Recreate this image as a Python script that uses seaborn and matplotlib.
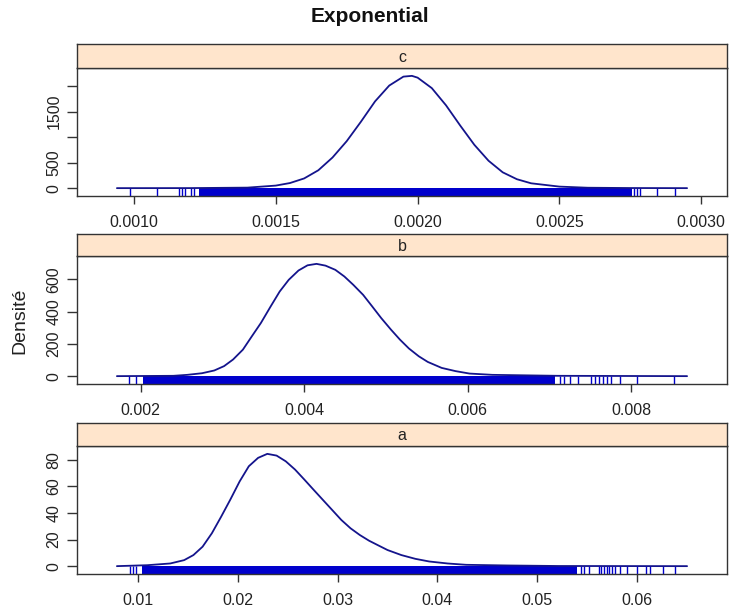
import numpy as np
import pandas as pd
import matplotlib
matplotlib.use("Agg")
import matplotlib.pyplot as plt
import seaborn as sns

sns.set_theme(style="ticks")
plt.rcParams['font.family'] = ['Liberation Sans', 'DejaVu Sans']

# density curves (x value, density)
c_x = [0.00094, 0.00120, 0.00140, 0.00150, 0.00155, 0.00160, 0.00165, 0.00170,
       0.00175, 0.00180, 0.00185, 0.00190, 0.00195, 0.00198, 0.00200, 0.00205,
       0.00210, 0.00215, 0.00220, 0.00225, 0.00230, 0.00235, 0.00240, 0.00250,
       0.00260, 0.00275, 0.00295]
c_y = [0, 1, 10, 50, 100, 190, 350, 600, 920, 1300, 1700, 2010, 2185, 2200, 2165,
       1960, 1624, 1228, 849, 537, 310, 175, 95, 30, 8, 2, 0]

b_x = [0.00171, 0.00240, 0.00257, 0.00275, 0.00290, 0.00302, 0.00313, 0.00325,
       0.00336, 0.00347, 0.00359, 0.00370, 0.00381, 0.00393, 0.00404, 0.00415,
       0.00426, 0.00438, 0.00449, 0.00460, 0.00472, 0.00483, 0.00494, 0.00506,
       0.00517, 0.00528, 0.00540, 0.00551, 0.00568, 0.00585, 0.00602, 0.00630,
       0.00710, 0.00868]
b_y = [0, 2, 8, 18, 35, 62, 103, 164, 247, 329, 432, 524, 596, 654, 686, 695,
       684, 658, 617, 565, 503, 432, 360, 288, 226, 171, 123, 88, 51, 31, 16, 8,
       2, 0]

a_x = [0.00790, 0.01093, 0.01324, 0.01463, 0.01556, 0.01648, 0.01741, 0.01833,
       0.01926, 0.02019, 0.02111, 0.02204, 0.02296, 0.02389, 0.02481, 0.02574,
       0.02667, 0.02759, 0.02852, 0.02944, 0.03037, 0.03130, 0.03222, 0.03315,
       0.03407, 0.03500, 0.03639, 0.03778, 0.03917, 0.04102, 0.04287, 0.04704,
       0.05213, 0.06500]
a_y = [0, 0.7, 2, 4.5, 8.3, 14.6, 24.7, 37, 50, 63.6, 75, 81.3, 84.3, 83, 78.7,
       72.5, 65, 57.4, 49.8, 42.3, 34.7, 28.4, 23.4, 19.1, 15.6, 12.1, 8.3, 5.5,
       3.5, 2, 1, 0.5, 0.1, 0]

# rug: solid band where the sample is dense, single ticks in the tails
c_dense = (0.00123, 0.002755)
c_ticks = [0.000986, 0.00108, 0.00116, 0.00117, 0.00118, 0.00120, 0.00121,
           0.002764, 0.002775, 0.002784, 0.002843, 0.002908]
b_dense = (0.00203, 0.00707)
b_ticks = [0.001858, 0.001943, 0.007123, 0.007180, 0.007253, 0.007350, 0.007502,
           0.007559, 0.007604, 0.007650, 0.007706, 0.007752, 0.007865, 0.008069,
           0.008516]
a_dense = (0.0104, 0.05397)
a_ticks = [0.00917, 0.0095, 0.00983, 0.05441, 0.05471, 0.05514, 0.05620, 0.05640,
           0.05670, 0.05697, 0.05723, 0.05750, 0.05780, 0.05830, 0.05895, 0.06000,
           0.06093, 0.06133, 0.06258, 0.06377]

c_xticks = [0.0010, 0.0015, 0.0020, 0.0025, 0.0030]
c_xlabels = ["0.0010", "0.0015", "0.0020", "0.0025", "0.0030"]
c_yticks = [0, 500, 1000, 1500, 2000]
c_ylabels = ["0", "500", "", "1500", ""]
b_xticks = [0.002, 0.004, 0.006, 0.008]
b_xlabels = ["0.002", "0.004", "0.006", "0.008"]
b_yticks = [0, 200, 400, 600]
b_ylabels = ["0", "200", "400", "600"]
a_xticks = [0.01, 0.02, 0.03, 0.04, 0.05, 0.06]
a_xlabels = ["0.01", "0.02", "0.03", "0.04", "0.05", "0.06"]
a_yticks = [0, 20, 40, 60, 80]
a_ylabels = ["0", "20", "40", "60", "80"]

panels = [
    ("c", c_x, c_y, c_dense, c_ticks, c_xticks, c_xlabels, c_yticks, c_ylabels, (196, 68, 44)),
    ("b", b_x, b_y, b_dense, b_ticks, b_xticks, b_xlabels, b_yticks, b_ylabels, (384, 256, 234)),
    ("a", a_x, a_y, a_dense, a_ticks, a_xticks, a_xlabels, a_yticks, a_ylabels, (574, 446, 423)),
]

W, H = 729, 615
fig = plt.figure(figsize=(W / 100, H / 100), dpi=100)
left, right = 77, 727
frame_col = "#333333"
curve_col = "#14148C"
rug_col = "#0000CC"
strip_col = "#FFE5CC"

for name, xs, ys, dense, ticks, xt, xl, yt, yl, (bot, top, stop) in panels:
    ax = fig.add_axes([left / W, 1 - bot / H, (right - left) / W, (bot - top) / H])
    ax.axvspan(dense[0], dense[1], ymin=0, ymax=0.063, color=rug_col, lw=0)
    sns.rugplot(x=ticks, ax=ax, height=0.063, color=rug_col, lw=1.1)
    df = pd.DataFrame({"x": xs, "density": ys})
    sns.lineplot(data=df, x="x", y="density", ax=ax, color=curve_col,
                 linewidth=1.3, sort=False, estimator=None)

    # lattice-style 7% padding around the data range
    xr = max(xs) - min(xs)
    yr = max(ys) - min(ys)
    ax.set_xlim(min(xs) - 0.07 * xr, max(xs) + 0.07 * xr)
    ax.set_ylim(min(ys) - 0.07 * yr, max(ys) + 0.07 * yr)
    ax.set_xticks(xt)
    ax.set_xticklabels(xl)
    ax.set_yticks(yt)
    ax.set_yticklabels(yl)
    ax.set_xlabel("")
    ax.set_ylabel("")
    ax.tick_params(axis="x", direction="out", length=6, width=1, color=frame_col,
                   labelsize=11.5, pad=8, labelcolor="#222222")
    ax.tick_params(axis="y", direction="out", length=7, width=1, color=frame_col,
                   labelsize=11.5, pad=4, labelrotation=90, labelcolor="#222222")
    for lab in ax.get_yticklabels():
        lab.set_va("center")
    for sp in ax.spines.values():
        sp.set_visible(True)
        sp.set_color(frame_col)
        sp.set_linewidth(1)

    sax = fig.add_axes([left / W, 1 - top / H, (right - left) / W, (top - stop) / H])
    sax.set_facecolor(strip_col)
    sax.set_xticks([])
    sax.set_yticks([])
    for sp in sax.spines.values():
        sp.set_color(frame_col)
        sp.set_linewidth(1)
    sax.text(0.5, 0.45, name, ha="center", va="center", fontsize=11.5,
             color="#222222", transform=sax.transAxes)

fig.text(370 / W, 1 - 17 / H, "Exponential", ha="center", va="center",
         fontsize=15, fontweight="bold", color="#111111")
fig.text(20 / W, 1 - 321 / H, "Densité", ha="center", va="center",
         rotation=90, fontsize=14, color="#222222")

fig.savefig("out.png", dpi=100)
plt.close(fig)
